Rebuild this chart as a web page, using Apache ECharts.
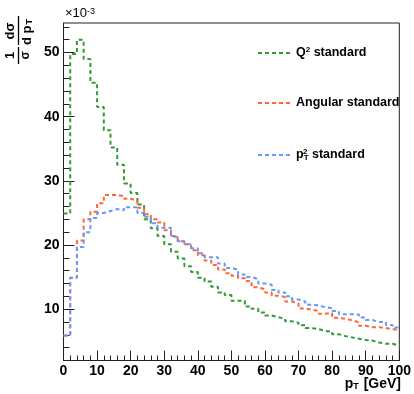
<!DOCTYPE html>
<html>
<head>
<meta charset="utf-8">
<script src="https://cdn.jsdelivr.net/npm/echarts@6/dist/echarts.min.js"></script>
<style>
html,body{margin:0;padding:0;background:#fff;}
#chart{width:414px;height:394px;}
</style>
</head>
<body>
<div id="chart"></div>
<script>
// Bin lower edges (GeV), bin width 2 GeV
const binLow = [0,2,4,6,8,10,12,14,16,18,20,22,24,26,28,30,32,34,36,38,40,42,44,46,48,50,52,54,56,58,60,62,64,66,68,70,72,74,76,78,80,82,84,86,88,90,92,94,96,98];
const xEnd = 100;
// 1/sigma dsigma/dpT  (x 10^-3)
const q2Standard = [24.9,49.75,52.0,49.0,45.3,41.5,37.9,35.2,32.5,29.6,28.1,26.3,24.0,22.6,21.4,20.1,18.95,17.9,16.7,15.8,14.9,14.3,13.5,12.6,12.2,11.3,11.3,10.4,10.05,9.5,9.0,8.75,8.5,8.1,7.9,7.5,7.05,6.9,6.6,6.5,6.1,5.8,5.6,5.4,5.2,5.1,4.8,4.6,4.6,4.35];
const angularStandard = [5.9,14.9,20.7,24.0,25.2,26.5,27.8,27.8,27.6,27.2,26.9,25.8,24.8,24.0,23.5,22.3,21.4,20.6,20.1,19.2,18.4,17.6,16.9,16.2,15.6,15.2,14.8,14.4,13.4,13.1,12.6,12.1,11.9,11.2,10.9,10.1,9.9,9.7,9.3,9.4,8.65,8.5,8.25,7.95,7.4,7.2,7.2,7.05,6.9,6.7];
const pt2Standard = [5.9,14.9,19.7,22.0,24.2,25.0,25.3,25.6,25.4,25.9,25.9,25.0,24.4,23.4,22.7,22.7,21.3,20.6,20.1,19.5,18.7,18.1,18.1,17.1,16.4,16.2,15.4,15.0,14.7,14.0,13.8,13.0,12.6,12.0,11.5,11.2,10.7,10.6,10.3,10.15,9.7,9.2,9.2,9.15,8.7,8.3,8.0,8.0,7.55,7.15];
const seriesNames = ['Q2 standard','Angular standard','pT2 standard'];
const seriesColors = ['#339933','#ff6633','#6699ff'];
const yMajorTicks = [10,20,30,40,50];
const yMinorTicks = [4,6,8,12,14,16,18,22,24,26,28,32,34,36,38,42,44,46,48,52,54];
const yMin = 2, yMax = 54.6;

const FONT = "'Liberation Sans', Arial, Helvetica, sans-serif";

function histData(vals){
  const d = binLow.map((x,i)=>[x, vals[i]]);
  d.push([xEnd, vals[vals.length-1]]);
  return d;
}

const chart = echarts.init(document.getElementById('chart'), null, {renderer:'canvas'});

const allVals = [q2Standard, angularStandard, pt2Standard];
const series = allVals.map((v,i)=>({
  name: seriesNames[i],
  type: 'line',
  step: 'end',
  symbol: 'none',
  showSymbol: false,
  data: histData(v),
  lineStyle: {color: seriesColors[i], width: 2, type: [4,3]},
  itemStyle: {color: seriesColors[i]},
  z: 3 + i
}));

const legendLabels = {
  'Q2 standard': 'Q{sup|2} standard',
  'Angular standard': 'Angular standard',
  'pT2 standard': 'p{sub|T} standard'
};
const legendTops = [46, 96, 148];
const legends = seriesNames.map((n,i)=>({
  data: [n],
  left: 257,
  top: legendTops[i],
  padding: 0,
  itemWidth: 33,
  itemHeight: 14,
  itemStyle: {opacity: 0},
  lineStyle: {width: 2, type: [4,3], color: seriesColors[i]},
  formatter: name => legendLabels[name],
  selectedMode: false,
  textStyle: {
    fontFamily: FONT, fontWeight: 'bold', fontSize: 12.5, color: '#000', lineHeight: 14,
    rich: {
      sup: {fontFamily: FONT, fontWeight: 'bold', fontSize: 8, verticalAlign: 'top', color:'#000', lineHeight: 14},
      sub: {fontFamily: FONT, fontWeight: 'bold', fontSize: 8, verticalAlign: 'bottom', color:'#000', lineHeight: 14, padding:[4,0,0,0]}
    }
  }
}));

const option = {
  animation: false,
  backgroundColor: '#fff',
  grid: {left: 63.5, right: 14, top: 23, bottom: 33.5, show: true, borderColor: '#222', borderWidth: 1, backgroundColor: 'transparent'},
  legend: legends,
  xAxis: {
    type: 'value', min: 0, max: 100, interval: 10,
    axisLine: {show: true, onZero: false, lineStyle: {color: '#222', width: 1}},
    axisTick: {show: true, inside: true, length: 10, lineStyle: {color: '#222'}},
    minorTick: {show: true, splitNumber: 5, length: 5, lineStyle: {color: '#222'}},
    splitLine: {show: false},
    axisLabel: {fontFamily: FONT, fontWeight: 'bold', fontSize: 14, color: '#000', margin: 4}
  },
  yAxis: [
    {
      type: 'value', min: yMin, max: yMax,
      axisLine: {show: true, onZero: false, lineStyle: {color: '#222', width: 1}},
      axisTick: {show: true, inside: true, length: 11, customValues: yMajorTicks, lineStyle: {color: '#222'}},
      axisLabel: {customValues: yMajorTicks, fontFamily: FONT, fontWeight: 'bold', fontSize: 14, color: '#000', margin: 4},
      splitLine: {show: false}
    },
    {
      type: 'value', min: yMin, max: yMax, position: 'left',
      axisLine: {show: false},
      axisTick: {show: true, inside: true, length: 6, customValues: yMinorTicks, lineStyle: {color: '#222'}},
      axisLabel: {show: false},
      splitLine: {show: false}
    }
  ],
  series: series,
  graphic: [
    {
      type: 'group', x: 18.5, y: 64, rotation: Math.PI/2,
      children: [
        {type: 'line', shape: {x1: 0, y1: 0, x2: 17, y2: 0}, style: {stroke: '#000', lineWidth: 1.3}},
        {type: 'text', x: 8.5, y: -1.5, style: {text: '1', font: 'bold 13px ' + FONT, fill: '#000', align: 'center', verticalAlign: 'bottom'}},
        {type: 'text', x: 8.5, y: 1.5, style: {text: 'σ', font: 'bold 12px ' + FONT, fill: '#000', align: 'center', verticalAlign: 'top'}},
        {type: 'line', shape: {x1: 19, y1: 0, x2: 48, y2: 0}, style: {stroke: '#000', lineWidth: 1.3}},
        {type: 'text', x: 33, y: -1.5, style: {text: 'dσ', font: 'bold 13px ' + FONT, fill: '#000', align: 'center', verticalAlign: 'bottom'}},
        {type: 'text', x: 19, y: 1.5, style: {text: 'd p{sub|T}', font: 'bold 13px ' + FONT, fill: '#000', align: 'left', verticalAlign: 'top',
          rich: {sub: {font: 'bold 9px ' + FONT, fill: '#000', verticalAlign: 'bottom', padding: [5,0,0,1]}}}}
      ]
    },
    {
      type: 'text', x: 65, y: 7,
      style: {text: '×10{sup|-3}', font: '13px ' + FONT, fill: '#000', rich: {sup: {font: '9px ' + FONT, fill: '#000', verticalAlign: 'top'}}}
    },
    {
      type: 'text', x: 401, y: 384,
      style: {text: 'p{sub|T} [GeV]', font: 'bold 14px ' + FONT, fill: '#000', align: 'right', verticalAlign: 'middle',
        rich: {sub: {font: 'bold 9px ' + FONT, fill: '#000', verticalAlign: 'bottom', padding: [6,1,0,0]}}}
    },
    {
      type: 'text', x: 303, y: 148,
      style: {text: '2', font: 'bold 8px ' + FONT, fill: '#000'}
    }
  ]
};
chart.setOption(option);
</script>
</body>
</html>
